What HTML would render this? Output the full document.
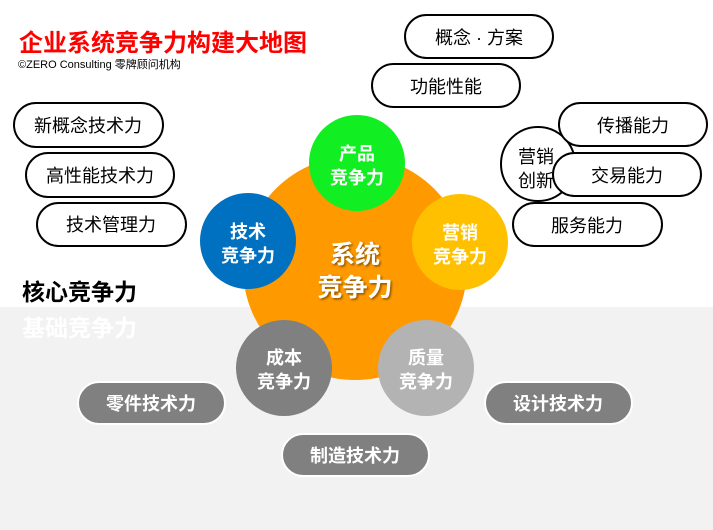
<!DOCTYPE html>
<html><head><meta charset="utf-8"><style>
html,body{margin:0;padding:0;background:#fff;width:713px;height:530px;overflow:hidden}
svg text{font-family:"Liberation Sans","Noto Sans CJK SC",sans-serif}
</style></head><body>
<svg width="713" height="530" xmlns="http://www.w3.org/2000/svg">
<defs>
<filter id="sh" x="-20%" y="-20%" width="140%" height="140%"><feDropShadow dx="1.5" dy="1.5" stdDeviation="1" flood-color="#000" flood-opacity="0.45"/></filter>
</defs>
<rect x="0" y="0" width="713" height="530" fill="#fff"/>
<rect x="0" y="307" width="713" height="223" fill="#f2f2f2"/>

<text x="19" y="51" font-size="24" font-weight="bold" fill="#ff0000">企业系统竞争力构建大地图</text>
<text x="18" y="68" font-size="11" fill="#000">©ZERO Consulting  零牌顾问机构</text>

<text x="22" y="300" font-size="23" font-weight="bold" fill="#000">核心竞争力</text>
<text x="22" y="336" font-size="23" font-weight="bold" fill="#fff">基础竞争力</text>

<g fill="#fff" stroke="#000" stroke-width="2">
<rect x="14" y="103" width="149" height="44" rx="22"/>
<rect x="26" y="153" width="148" height="44" rx="22"/>
<rect x="37" y="203" width="149" height="43" rx="21.5"/>
<rect x="405" y="15" width="148" height="43" rx="21.5"/>
<rect x="372" y="64" width="148" height="43" rx="21.5"/>
<circle cx="538" cy="164" r="37"/>
<rect x="559" y="103" width="148" height="43" rx="21.5"/>
<rect x="513" y="203" width="149" height="43" rx="21.5"/>
</g>
<g font-size="18" fill="#000" text-anchor="middle">
<text x="88" y="132">新概念技术力</text>
<text x="100" y="182">高性能技术力</text>
<text x="111" y="231">技术管理力</text>
<text x="479" y="44">概念 · 方案</text>
<text x="446" y="93">功能性能</text>
<text x="633" y="132">传播能力</text>
<text x="587" y="232">服务能力</text>
</g>
<g font-size="18" fill="#000">
<text x="518" y="163">营销</text>
<text x="518" y="187">创新</text>
</g>
<rect x="553" y="153" width="148" height="43" rx="21.5" fill="#fff" stroke="#000" stroke-width="2"/>
<text x="627" y="182" font-size="18" fill="#000" text-anchor="middle">交易能力</text>

<circle cx="355" cy="268" r="112" fill="#ff9900"/>
<circle cx="357" cy="163" r="48" fill="#11ee22"/>
<circle cx="248" cy="241" r="48" fill="#0070c0"/>
<circle cx="460" cy="242" r="48" fill="#ffc000"/>
<circle cx="284" cy="368" r="48" fill="#808080"/>
<circle cx="426" cy="368" r="48" fill="#b3b3b3"/>

<g font-size="18" font-weight="bold" fill="#fff" text-anchor="middle">
<text x="357" y="160">产品</text><text x="357" y="184">竞争力</text>
<text x="248" y="238">技术</text><text x="248" y="262">竞争力</text>
<text x="460" y="239">营销</text><text x="460" y="263">竞争力</text>
<text x="284" y="364">成本</text><text x="284" y="388">竞争力</text>
<text x="426" y="364">质量</text><text x="426" y="388">竞争力</text>
</g>
<g font-size="25" font-weight="bold" fill="#fff" text-anchor="middle" filter="url(#sh)">
<text x="355" y="263">系统</text>
<text x="355" y="296">竞争力</text>
</g>

<g fill="#808080" stroke="#fff" stroke-width="2">
<rect x="78" y="382" width="147" height="42" rx="21"/>
<rect x="485" y="382" width="147" height="42" rx="21"/>
<rect x="282" y="434" width="147" height="42" rx="21"/>
</g>
<g font-size="18" font-weight="bold" fill="#fff" text-anchor="middle">
<text x="151" y="410">零件技术力</text>
<text x="558" y="410">设计技术力</text>
<text x="355" y="462">制造技术力</text>
</g>
</svg>
</body></html>
